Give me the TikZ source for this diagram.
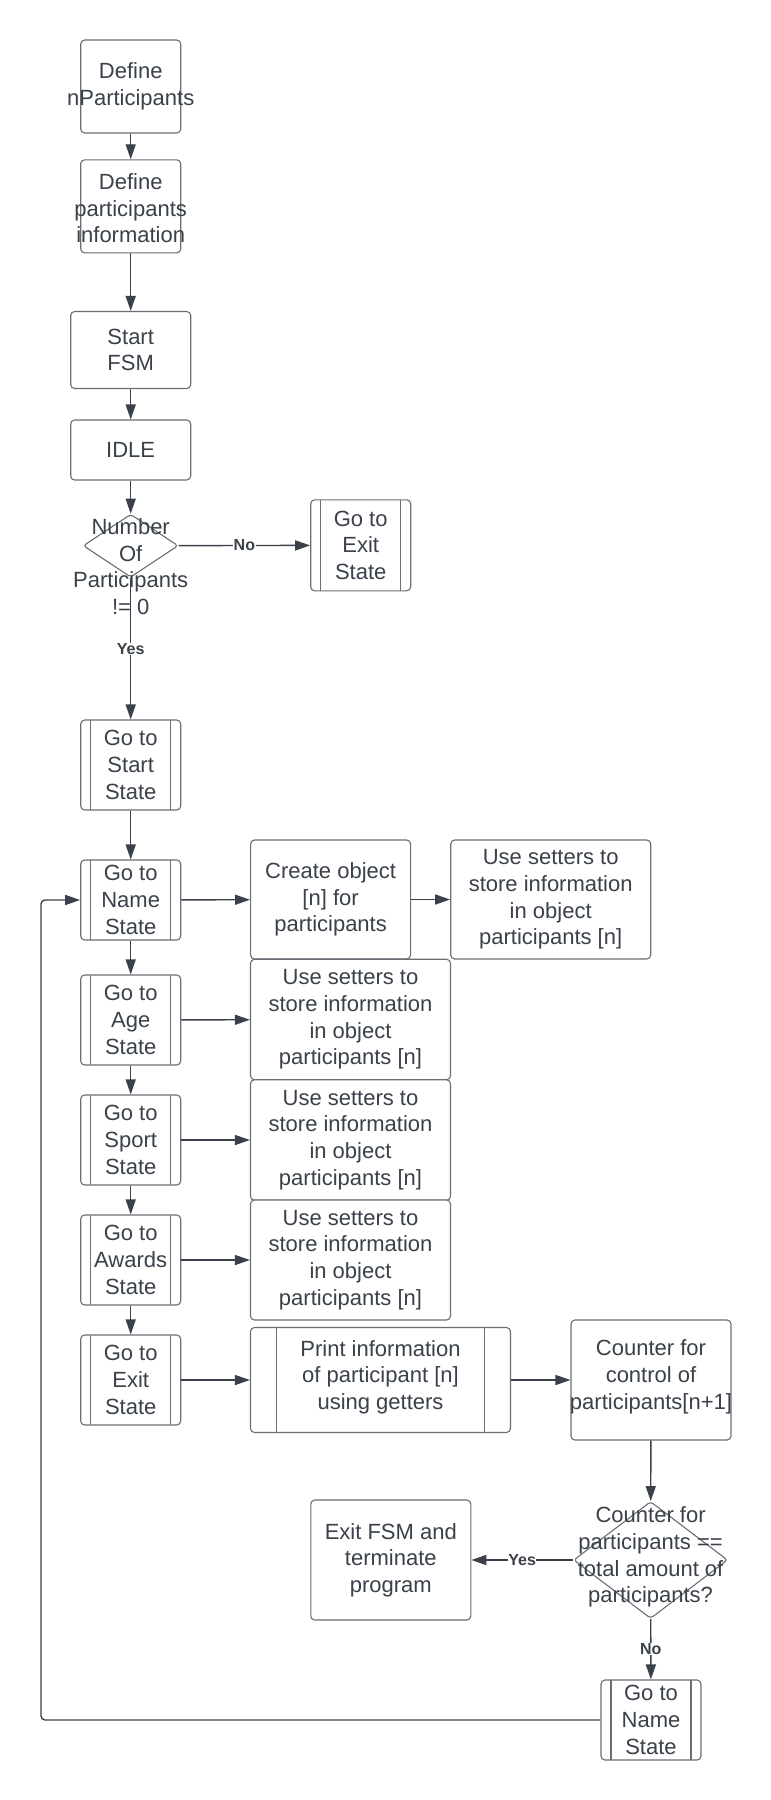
\documentclass[tikz,border=0pt]{standalone}
\usepackage{fontspec}
\setmainfont{Liberation Sans}
\usetikzlibrary{shapes.geometric,arrows.meta}
\definecolor{txt}{HTML}{3A414A}
\definecolor{brd}{HTML}{6A6E75}
\begin{document}
\begin{tikzpicture}[x=1pt,y=-1pt,
  every node/.style={text=txt},
  every label/.style={align=center, inner sep=0pt, text=txt, font=\fontsize{22}{26.7}\selectfont},
  box/.style={draw=brd, line width=1.1pt, rounded corners=4pt, inner sep=0pt, fill=white},
  proc/.style={box, path picture={\draw[brd, line width=1.1pt]
     ([xshift=#1]path picture bounding box.north west) -- ([xshift=#1]path picture bounding box.south west)
     ([xshift=-#1]path picture bounding box.north east) -- ([xshift=-#1]path picture bounding box.south east);}},
  proc/.default=10pt,
  dec/.style={draw=brd, line width=1.1pt, shape=diamond, inner sep=0pt, rounded corners=3pt, fill=white},
  arr/.style={draw=txt, line width=1.4pt, -{Triangle[length=15pt,width=10pt]}},
  lbl/.style={font=\fontsize{16}{18}\selectfont\bfseries, fill=white, inner sep=0.5pt, text=txt}
]
\fill[white] (0,0) rectangle (771,1800);
\useasboundingbox (0,0) rectangle (771,1800);

% left column
\node[box, minimum width=100pt, minimum height=93pt, label=center:{Define\\nParticipants}] (def1) at (130.7,86.5) {};
\node[box, minimum width=100pt, minimum height=93pt, label={[yshift=-2pt]center:{Define\\participants\\information}}] (def2) at (130.7,206.3) {};
\node[box, minimum width=120pt, minimum height=77pt, label=center:{Start\\FSM}] (start) at (130.7,350) {};
\node[box, minimum width=120pt, minimum height=60pt, label=center:{IDLE}] (idle) at (130.7,450) {};
\node[dec, minimum width=95pt, minimum height=63pt, label={[yshift=-21pt]center:{Number\\Of\\Participants\\!= 0}}] (dec1) at (130.7,545.7) {};
\node[proc, minimum width=100pt, minimum height=91pt, label=center:{Go to\\Exit\\State}] (exit1) at (360.7,545.3) {};
\node[proc, minimum width=100pt, minimum height=90pt, label=center:{Go to\\Start\\State}] (gstart) at (130.7,765) {};
\node[proc, minimum width=100pt, minimum height=80pt, label=center:{Go to\\Name\\State}] (gname) at (130.7,900) {};
\node[proc, minimum width=100pt, minimum height=90pt, label=center:{Go to\\Age\\State}] (gage) at (130.7,1020) {};
\node[proc, minimum width=100pt, minimum height=90pt, label=center:{Go to\\Sport\\State}] (gsport) at (130.7,1140) {};
\node[proc, minimum width=100pt, minimum height=90pt, label=center:{Go to\\Awards\\State}] (gawards) at (130.7,1260) {};
\node[proc, minimum width=100pt, minimum height=90pt, label=center:{Go to\\Exit\\State}] (gexit) at (130.7,1380) {};

% right side
\node[box, minimum width=160pt, minimum height=119pt, label=center:{Create object\\{[n]} for\\participants}] (create) at (330.6,899.5) {};
\node[box, minimum width=200pt, minimum height=119pt, label=center:{Use setters to\\store information\\in object\\participants [n]}] (set1) at (550.7,899.5) {};
\node[box, minimum width=200pt, minimum height=120.5pt, label=center:{Use setters to\\store information\\in object\\participants [n]}] (set2) at (350.5,1019.5) {};
\node[box, minimum width=200pt, minimum height=120.5pt, label=center:{Use setters to\\store information\\in object\\participants [n]}] (set3) at (350.5,1140) {};
\node[box, minimum width=200pt, minimum height=120pt, label=center:{Use setters to\\store information\\in object\\participants [n]}] (set4) at (350.5,1260) {};
\node[proc=26pt, minimum width=260pt, minimum height=105pt, label={[yshift=3pt]center:{Print information\\of participant [n]\\using getters}}] (print) at (380.5,1380) {};
\node[box, minimum width=160pt, minimum height=120pt, label={[yshift=3pt]center:{Counter for\\control of\\participants[n+1]}}] (counter) at (651,1380) {};
\node[dec, minimum width=154pt, minimum height=117pt, label={[yshift=3pt]center:{Counter for\\participants ==\\total amount of\\participants?}}] (dec2) at (650.6,1560) {};
\node[box, minimum width=160pt, minimum height=120pt, label=center:{Exit FSM and\\terminate\\program}] (exitfsm) at (390.8,1560) {};
\node[proc, minimum width=100pt, minimum height=80pt, label=center:{Go to\\Name\\State}] (gname2) at (651,1720) {};

% connectors
\draw[arr] (def1) -- (def2);
\draw[arr] (def2) -- (start);
\draw[arr] (start) -- (idle);
\draw[arr] (idle) -- (dec1);
\draw[arr] (dec1) -- node[lbl] {No} (exit1);
\draw[arr] (dec1) -- node[lbl] {Yes} (gstart);
\draw[arr] (gstart) -- (gname);
\draw[arr] (gname) -- (gage);
\draw[arr] (gage) -- (gsport);
\draw[arr] (gsport) -- (gawards);
\draw[arr] (gawards) -- (gexit);
\draw[arr] (gname) -- (create);
\draw[arr] (create) -- (set1);
\draw[arr] (gage) -- (set2);
\draw[arr] (gsport) -- (set3);
\draw[arr] (gawards) -- (set4);
\draw[arr] (gexit) -- (print);
\draw[arr] (print) -- (counter);
\draw[arr] (counter) -- (dec2);
\draw[arr] (dec2) -- node[lbl] {Yes} (exitfsm);
\draw[arr] (dec2) -- node[lbl] {No} (gname2);
\coordinate (lp) at (41,1720);
\draw[arr, rounded corners=4pt] (gname2.west) -- (lp) |- (gname.west);
\end{tikzpicture}
\end{document}
